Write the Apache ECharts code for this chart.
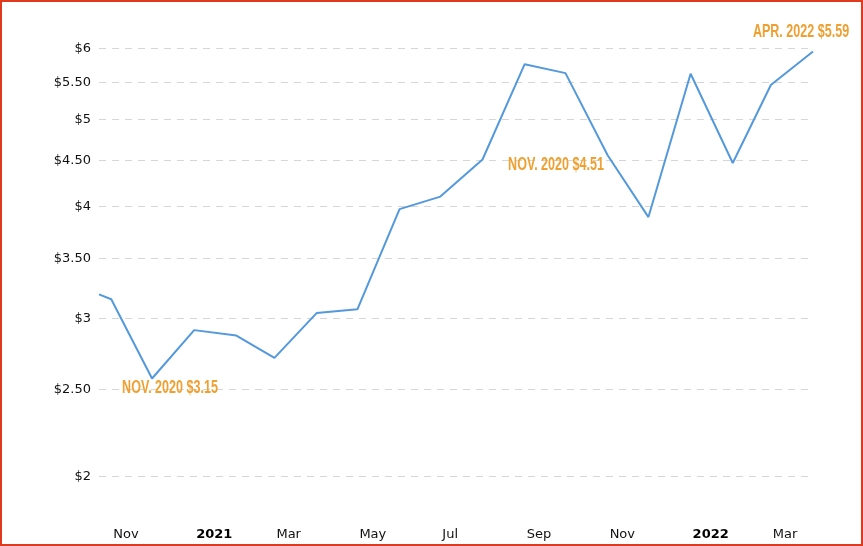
<!DOCTYPE html>
<html><head><meta charset="utf-8">
<script src="https://cdn.jsdelivr.net/npm/echarts@6/dist/echarts.min.js"></script>
<style>
html,body{margin:0;padding:0;background:#fff}
#c{position:absolute;left:0;top:0;width:863px;height:546px}
#f{position:absolute;left:0;top:0;width:863px;height:546px;box-sizing:border-box;border:2px solid #e03a1e;pointer-events:none}
</style>
</head><body><div id="c"></div><div id="f"></div>
<script>
// ---- data ----
const dates = ['2020-10-23','2020-11-01','2020-12-01','2021-01-01','2021-02-01','2021-03-01','2021-04-01','2021-05-01','2021-06-01','2021-07-01','2021-08-01','2021-09-01','2021-10-01','2021-11-01','2021-12-01','2022-01-01','2022-02-01','2022-03-01','2022-04-01'];
const prices = [3.19,3.15,2.57,2.91,2.87,2.71,3.04,3.07,3.97,4.10,4.51,5.76,5.63,4.56,3.89,5.62,4.47,5.46,5.95];
const yTicks = [2,2.5,3,3.5,4,4.5,5,5.5,6];
const xTickDates = ['2020-11-01','2021-01-01','2021-03-01','2021-05-01','2021-07-01','2021-09-01','2021-11-01','2022-01-01','2022-03-01'];
const monthNames = ['Jan','Feb','Mar','Apr','May','Jun','Jul','Aug','Sep','Oct','Nov','Dec'];
const annotationTexts = ['NOV. 2020 $3.15','NOV. 2020 $4.51','APR. 2022 $5.59'];

// ---- helpers ----
function ts(s){const p=s.split('-').map(Number);return new Date(p[0],p[1]-1,p[2]).getTime();}
const seriesData = dates.map((d,i)=>[ts(d),prices[i]]);
const annPos = [[170,388],[556,165],[801,32]];
const FONT = 'DejaVu Sans, Verdana, sans-serif';

const chart = echarts.init(document.getElementById('c'));
chart.setOption({
  animation:false,
  backgroundColor:'#fff',
  grid:{left:99,right:50,top:11.2,bottom:28.8},
  xAxis:{
    type:'value', scale:true,
    min:ts(dates[0]), max:ts(dates[dates.length-1]),
    axisLine:{show:false}, axisTick:{show:false, customValues:xTickDates.map(ts)}, splitLine:{show:false},
    axisLabel:{
      customValues:xTickDates.map(ts),
      align:'left', margin:11, padding:[0,0,0,2], showMinLabel:true, showMaxLabel:true,
      fontFamily:FONT, fontSize:13, color:'#111',
      formatter:function(v){const d=new Date(v);return d.getMonth()===0?'{b|'+d.getFullYear()+'}':monthNames[d.getMonth()];},
      rich:{b:{fontWeight:'bold',fontFamily:FONT,fontSize:13,color:'#000'}}
    }
  },
  yAxis:{
    type:'log', logBase:10, min:1.8, max:6.6,
    axisLine:{show:false},
    axisTick:{show:false, customValues:yTicks},
    axisLabel:{
      customValues:yTicks, margin:8,
      fontFamily:FONT, fontSize:13, color:'#111',
      formatter:function(v){return Math.abs(v-Math.round(v))<1e-6?'$'+Math.round(v):'$'+v.toFixed(2);}
    },
    splitLine:{show:true,lineStyle:{color:'#d6d6d6',width:1,type:[7,6]}}
  },
  series:[{
    type:'line', data:seriesData, showSymbol:false, symbol:'none',
    lineStyle:{color:'#5499db',width:2}, itemStyle:{color:'#5499db'}
  }],
  graphic:annotationTexts.map((t,i)=>({
    type:'text', x:annPos[i][0], y:annPos[i][1], scaleX:0.66, z:100,
    style:{text:t, fill:'#efa031', font:'bold 19px "Liberation Sans", Arial, sans-serif', textAlign:'center', textVerticalAlign:'middle'}
  }))
});
</script>
</body></html>
